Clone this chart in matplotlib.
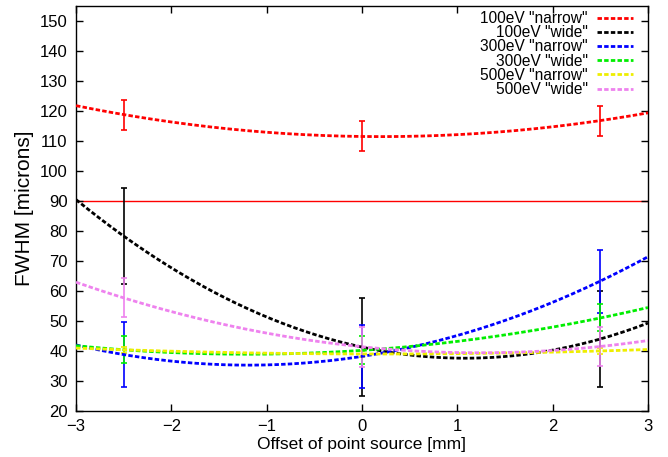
import numpy as np
import matplotlib
matplotlib.use("Agg")
import matplotlib.pyplot as plt

plt.rcParams['font.family'] = ['Liberation Sans', 'DejaVu Sans']

# measurement positions (mm)
offsets = [-2.5, 0.0, 2.5]

labels = ['100eV "narrow"', '100eV "wide"', '300eV "narrow"',
          '300eV "wide"', '500eV "narrow"', '500eV "wide"']
colors = ['#ff0000', '#000000', '#0000ff', '#00ee00', '#eeee00', '#ee82ee']

# FWHM values [microns] at each offset
fwhm_100_narrow = [118.8, 111.5, 116.8]
fwhm_100_wide = [78.3, 41.3, 44.0]
fwhm_300_narrow = [38.8, 38.2, 63.3]
fwhm_300_wide = [40.4, 40.2, 51.0]
fwhm_500_narrow = [40.4, 39.0, 40.0]
fwhm_500_wide = [57.7, 41.4, 41.5]

# error bars (half widths)
err_100_narrow = [5.0, 5.0, 5.0]
err_100_wide = [16.1, 16.2, 16.0]
err_300_narrow = [10.7, 10.4, 10.5]
err_300_wide = [4.5, 4.7, 4.5]
err_500_narrow = [1.0, 1.0, 1.0]
err_500_wide = [6.5, 6.7, 6.5]

series = [fwhm_100_narrow, fwhm_100_wide, fwhm_300_narrow,
          fwhm_300_wide, fwhm_500_narrow, fwhm_500_wide]
errors = [err_100_narrow, err_100_wide, err_300_narrow,
          err_300_wide, err_500_narrow, err_500_wide]

reference_level = 90

fig = plt.figure(figsize=(6.68, 4.57), dpi=100)
ax = fig.add_axes([0.1138, 0.1007, 0.970 - 0.1138, 0.9869 - 0.1007])

xfine = np.linspace(-3, 3, 300)
handles = []
for y, e, c, lab in zip(series, errors, colors, labels):
    coef = np.polyfit(offsets, y, 2)
    ln, = ax.plot(xfine, np.polyval(coef, xfine), color=c, lw=2.0,
                  linestyle=(0, (1.6, 0.8)), label=lab, zorder=3)
    ax.errorbar(offsets, y, yerr=e, fmt='none', ecolor=c, elinewidth=1.2,
                capsize=2, capthick=1.2, zorder=2)
    handles.append(ln)

ax.axhline(reference_level, color='#ff0000', lw=1.0, zorder=1)

ax.set_xlim(-3, 3)
ax.set_ylim(20, 155)
ax.set_xticks(np.arange(-3, 4, 1))
ax.set_yticks(np.arange(20, 151, 10))
ax.tick_params(direction='in', top=True, right=True, length=5, width=1,
               labelsize=12, pad=6)
for s in ax.spines.values():
    s.set_linewidth(1.0)

ax.set_xlabel('Offset of point source [mm]', fontsize=12.5, labelpad=2)
ax.set_ylabel('FWHM [microns]', fontsize=15, labelpad=4)

leg = ax.legend(handles=handles, loc='upper right', frameon=False,
                markerfirst=False, fontsize=11.2, handlelength=2.3,
                handletextpad=0.6, labelspacing=-0.05, borderaxespad=0,
                borderpad=0, bbox_to_anchor=(633 / 668, 1 - 11 / 457),
                bbox_transform=fig.transFigure)

fig.savefig('out.png', dpi=100)
